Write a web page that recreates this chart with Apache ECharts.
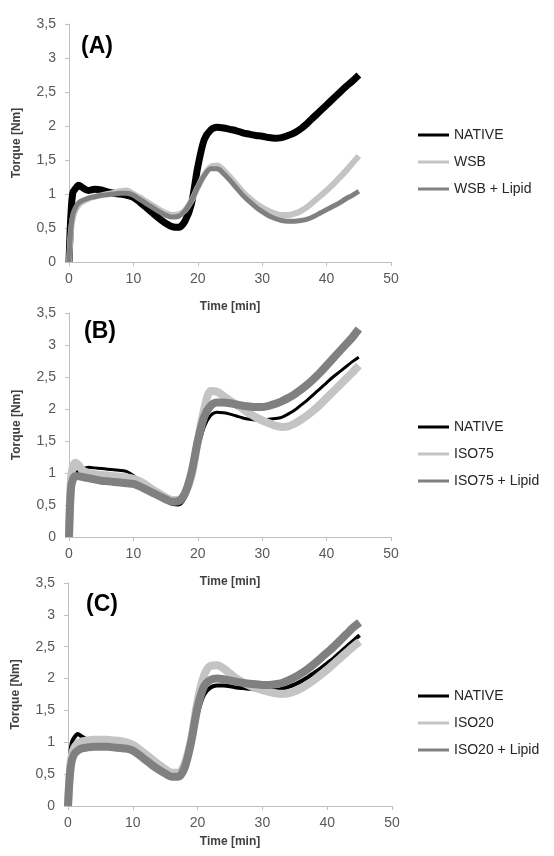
<!DOCTYPE html>
<html><head><meta charset="utf-8">
<script src="https://cdn.jsdelivr.net/npm/echarts@6/dist/echarts.min.js"></script>
<style>html,body{margin:0;padding:0;background:#fff}#c{width:554px;height:856px}</style>
</head><body><div id="c"></div>
<script>
// ---- data ----
const time = [0,0.3,0.6,1,1.5,2,3,4,5,6,7,8,9,10,11,12,13,14,15,16,17,18,19,20,21,22,23,24,25,26,27,28,29,30,31,32,33,34,35,36,37,38,39,40,41,42,43,44,45];
const xTickValues = [0,10,20,30,40,50];
const yTickLabels = ['0','0,5','1','1,5','2','2,5','3','3,5'];
const panelLabels = ['(A)','(B)','(C)'];
const namesA = ['NATIVE','WSB','WSB + Lipid'];
const namesB = ['NATIVE','ISO75','ISO75 + Lipid'];
const namesC = ['NATIVE','ISO20','ISO20 + Lipid'];

const nativeA = [0,0.7,1.02,1.08,1.13,1.1,1.05,1.07,1.06,1.03,1.01,1.0,0.98,0.95,0.88,0.8,0.72,0.64,0.57,0.52,0.51,0.6,0.85,1.4,1.8,1.94,1.98,1.97,1.95,1.93,1.9,1.88,1.86,1.85,1.83,1.82,1.83,1.86,1.9,1.96,2.04,2.13,2.22,2.31,2.4,2.49,2.58,2.66,2.75];
const wsbA    = [0,0.45,0.65,0.76,0.84,0.88,0.93,0.96,0.98,1.0,1.02,1.04,1.05,1.0,0.95,0.89,0.83,0.77,0.72,0.69,0.7,0.76,0.9,1.1,1.28,1.4,1.42,1.35,1.25,1.14,1.03,0.94,0.86,0.8,0.75,0.71,0.69,0.69,0.71,0.75,0.81,0.89,0.97,1.05,1.14,1.24,1.34,1.45,1.56];
const wsbLipA = [0,0.5,0.7,0.8,0.87,0.9,0.94,0.96,0.98,0.99,1.0,1.01,1.01,0.98,0.92,0.86,0.8,0.74,0.69,0.66,0.67,0.75,0.9,1.1,1.27,1.37,1.37,1.3,1.2,1.09,0.98,0.89,0.81,0.74,0.68,0.64,0.61,0.6,0.6,0.61,0.63,0.67,0.72,0.77,0.82,0.87,0.93,0.98,1.04];

const nativeB = [0,0.8,0.95,1.0,1.03,1.06,1.09,1.08,1.07,1.06,1.05,1.04,1.02,0.96,0.88,0.8,0.72,0.64,0.57,0.51,0.5,0.6,0.88,1.35,1.72,1.9,1.95,1.94,1.92,1.89,1.86,1.84,1.83,1.83,1.84,1.85,1.87,1.92,1.98,2.06,2.14,2.23,2.32,2.41,2.5,2.58,2.66,2.74,2.81];
const iso75B   = [0,0.9,1.1,1.16,1.12,1.05,1.0,0.98,0.97,0.96,0.95,0.94,0.93,0.91,0.87,0.81,0.74,0.68,0.62,0.58,0.58,0.68,0.95,1.5,2.0,2.28,2.27,2.2,2.13,2.07,2.0,1.93,1.87,1.82,1.78,1.74,1.72,1.73,1.77,1.83,1.9,1.98,2.07,2.17,2.27,2.37,2.47,2.57,2.68];
const iso75LipB= [0,0.75,0.9,0.95,0.95,0.94,0.92,0.9,0.88,0.87,0.86,0.85,0.84,0.83,0.79,0.74,0.69,0.64,0.59,0.55,0.56,0.68,1.0,1.5,1.88,2.05,2.1,2.1,2.09,2.07,2.05,2.04,2.03,2.03,2.05,2.08,2.12,2.17,2.23,2.3,2.38,2.47,2.57,2.68,2.79,2.9,3.01,3.12,3.25];

const nativeC = [0,0.75,1.0,1.08,1.13,1.1,1.04,1.02,1.01,1.0,0.99,0.98,0.96,0.9,0.84,0.78,0.71,0.64,0.58,0.53,0.53,0.65,0.98,1.45,1.75,1.86,1.89,1.89,1.88,1.86,1.85,1.84,1.83,1.83,1.82,1.82,1.84,1.87,1.91,1.96,2.02,2.09,2.16,2.24,2.32,2.41,2.5,2.59,2.68];
const iso20C   = [0,0.55,0.8,0.92,0.98,1.01,1.03,1.04,1.04,1.04,1.03,1.02,1.0,0.96,0.89,0.81,0.73,0.65,0.58,0.52,0.52,0.66,1.05,1.65,2.05,2.2,2.21,2.16,2.08,2.0,1.94,1.89,1.85,1.82,1.79,1.77,1.76,1.77,1.8,1.85,1.91,1.98,2.06,2.14,2.23,2.32,2.41,2.5,2.58];
const iso20LipC= [0,0.5,0.72,0.82,0.87,0.9,0.92,0.93,0.93,0.93,0.92,0.91,0.9,0.87,0.8,0.72,0.64,0.57,0.51,0.46,0.46,0.6,1.0,1.55,1.88,1.98,2.0,1.99,1.97,1.95,1.93,1.92,1.91,1.9,1.9,1.91,1.93,1.97,2.02,2.08,2.15,2.23,2.32,2.41,2.5,2.6,2.7,2.8,2.88];

// ---- chart ----
const FONT = 'Liberation Sans, Arial, sans-serif';
const colors = ['#000000', '#c4c4c4', '#808080'];
const grids = [
  {left: 69, top: 24, width: 322, height: 238},
  {left: 69, top: 313, width: 322, height: 224},
  {left: 68, top: 583, width: 324, height: 223}
];
const xNameGaps = [39, 39, 30];
const legendTops = [128, 420, 689];
const widths = [[7, 6, 5], [3, 8, 8], [4, 8, 8]];
const panels = [
  {names: namesA, data: [nativeA, wsbA, wsbLipA]},
  {names: namesB, data: [nativeB, iso75B, iso75LipB]},
  {names: namesC, data: [nativeC, iso20C, iso20LipC]}
];

const xAxes = [], yAxes = [], series = [], legends = [], titles = [];
const titlePos = [[81, 35], [84, 320], [86, 593]];
panels.forEach((p, gi) => {
  xAxes.push({
    type: 'value', gridIndex: gi, min: xTickValues[0], max: xTickValues[xTickValues.length - 1], interval: 10,
    name: 'Time [min]', nameLocation: 'middle', nameGap: xNameGaps[gi],
    nameTextStyle: {fontFamily: FONT, fontSize: 12, fontWeight: 'bold', color: '#404040'},
    axisLine: {lineStyle: {color: '#bfbfbf', width: 1}},
    axisTick: {show: true, length: 4, lineStyle: {color: '#bfbfbf'}},
    axisLabel: {fontFamily: FONT, fontSize: 14, color: '#595959', margin: 10},
    splitLine: {show: false}
  });
  yAxes.push({
    type: 'value', gridIndex: gi, min: 0, max: 3.5, interval: 0.5,
    name: 'Torque [Nm]', nameLocation: 'middle', nameGap: 46,
    nameTextStyle: {fontFamily: FONT, fontSize: 12, fontWeight: 'bold', color: '#404040'},
    axisLine: {show: true, lineStyle: {color: '#bfbfbf', width: 1}},
    axisTick: {show: true, length: 4, lineStyle: {color: '#bfbfbf'}},
    axisLabel: {fontFamily: FONT, fontSize: 14, color: '#595959', margin: 13,
      formatter: v => yTickLabels[Math.round(v / 0.5)]},
    splitLine: {show: false}
  });
  p.names.forEach((n, si) => {
    series.push({
      type: 'line', name: n, xAxisIndex: gi, yAxisIndex: gi,
      data: time.map((t, i) => [t, p.data[si][i]]),
      showSymbol: false, symbol: 'none', smooth: 0.3,
      lineStyle: {color: colors[si], width: widths[gi][si]},
      itemStyle: {color: colors[si]},
      z: 2 + si, animation: false
    });
  });
  legends.push({
    orient: 'vertical', left: 418, top: legendTops[gi], padding: 0,
    data: p.names.map((n, si) => ({name: n, icon: 'rect', itemStyle: {color: colors[si]}})),
    itemWidth: 31, itemHeight: 3, itemGap: 13,
    textStyle: {fontFamily: FONT, fontSize: 14, color: '#262626', lineHeight: 14},
    selectedMode: false
  });
  titles.push({
    text: panelLabels[gi], left: titlePos[gi][0], top: titlePos[gi][1], padding: 0,
    textStyle: {fontFamily: FONT, fontSize: 23, fontWeight: 'bold', color: '#000'}
  });
});

const chart = echarts.init(document.getElementById('c'), null, {renderer: 'canvas'});
chart.setOption({
  animation: false,
  backgroundColor: '#fff',
  title: titles,
  grid: grids,
  xAxis: xAxes,
  yAxis: yAxes,
  legend: legends,
  series: series
});
</script>
</body></html>
